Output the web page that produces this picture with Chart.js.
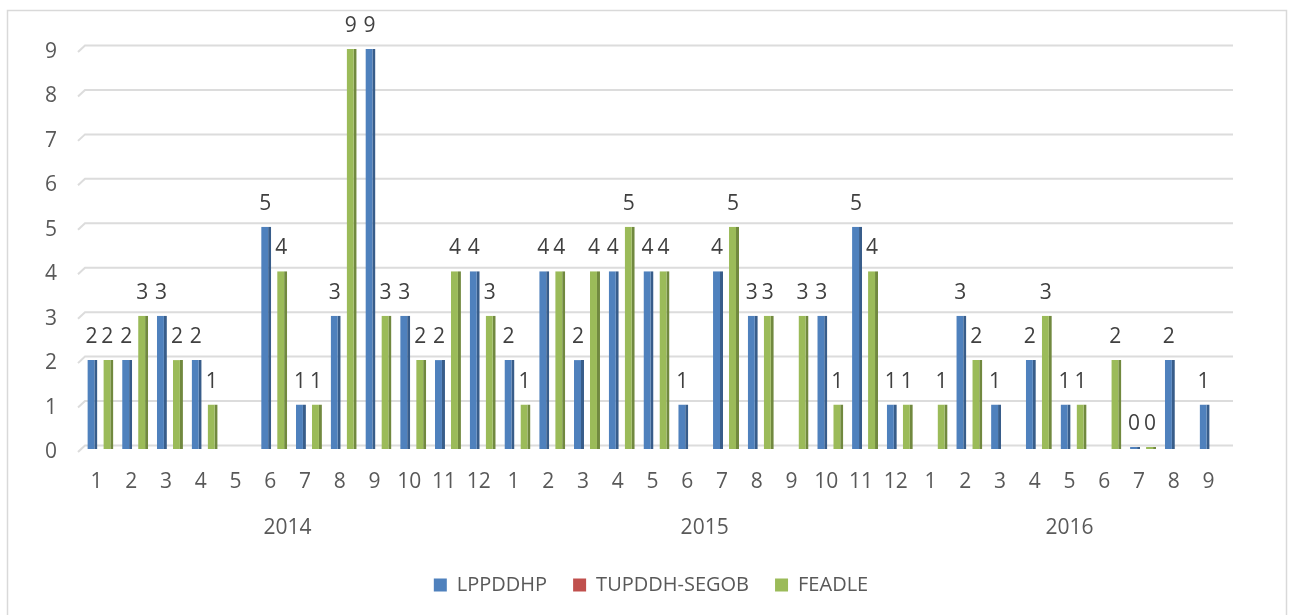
<!DOCTYPE html>
<html>
<head>
<meta charset="utf-8">
<script src="https://cdn.jsdelivr.net/npm/chart.js@4"></script>
<style>
  html, body { margin: 0; padding: 0; background: #ffffff; }
  #wrap { width: 1290px; height: 615px; }
</style>
</head>
<body>
<div id="wrap"><canvas id="c" width="1290" height="615"></canvas></div>
<script>
// ---- data ----
const months = ['1','2','3','4','5','6','7','8','9','10','11','12',
                '1','2','3','4','5','6','7','8','9','10','11','12',
                '1','2','3','4','5','6','7','8','9'];
const years = ['2014', '2015', '2016'];
const yearCounts = [12, 12, 9];
const seriesNames = ['LPPDDHP', 'TUPDDH-SEGOB', 'FEADLE'];
const lppddhp = [2,2,3,2,null,5,1,3,9,3,2,4,
                 2,4,2,4,4,1,4,3,null,3,5,1,
                 null,3,1,2,1,null,0,2,1];
const tupddhSegob = [null,null,null,null,null,null,null,null,null,null,null,null,
                     null,null,null,null,null,null,null,null,null,null,null,null,
                     null,null,null,null,null,null,null,null,null];
const feadle = [2,3,2,1,null,4,1,9,3,2,4,3,
                1,4,4,5,4,null,5,3,3,1,4,1,
                1,2,null,3,1,2,0,null,null];
const yTicks = [0,1,2,3,4,5,6,7,8,9];

const FONT = "'Open Sans', 'Noto Sans', sans-serif";
const TXT = '#595959';

const frame = {
  id: 'frame',
  beforeDraw(chart) {
    const ctx = chart.ctx;
    ctx.save();
    ctx.fillStyle = '#ffffff';
    ctx.fillRect(0, 0, chart.width, chart.height);
    ctx.strokeStyle = '#d9d9d9';
    ctx.lineWidth = 1.5;
    ctx.strokeRect(7.5, 10.5, 1279, 700);
    ctx.restore();
  }
};

const grid3d = {
  id: 'grid3d',
  beforeDatasetsDraw(chart) {
    const ctx = chart.ctx, y = chart.scales.y, a = chart.chartArea;
    ctx.save();
    ctx.strokeStyle = '#dcdcdc';
    ctx.lineWidth = 2;
    yTicks.forEach(v => {
      const py = y.getPixelForValue(v);
      ctx.beginPath();
      ctx.moveTo(a.left - 5, py + 3);
      ctx.lineTo(a.left + 2, py - 3.5);
      ctx.lineTo(a.right + 3, py - 3.5);
      ctx.stroke();
    });
    ctx.restore();
  }
};

const valueLabels = {
  id: 'valueLabels',
  afterDatasetsDraw(chart) {
    const ctx = chart.ctx;
    ctx.save();
    ctx.font = '21px ' + FONT;
    ctx.fillStyle = '#404040';
    ctx.textAlign = 'center';
    ctx.textBaseline = 'middle';
    chart.data.datasets.forEach((ds, di) => {
      const meta = chart.getDatasetMeta(di);
      meta.data.forEach((el, i) => {
        const v = ds.data[i];
        if (v === null || v === undefined) return;
        ctx.fillText(String(v), el.x - 1, el.y - 23);
      });
    });
    ctx.restore();
  }
};

const yearLabels = {
  id: 'yearLabels',
  afterDraw(chart) {
    const ctx = chart.ctx, x = chart.scales.x;
    ctx.save();
    ctx.font = '21px ' + FONT;
    ctx.fillStyle = TXT;
    ctx.textAlign = 'center';
    ctx.textBaseline = 'middle';
    let start = 0;
    years.forEach((yr, k) => {
      const end = start + yearCounts[k] - 1;
      const cx = (x.getPixelForValue(start) + x.getPixelForValue(end)) / 2 - 4;
      ctx.fillText(yr, cx, 528);
      start = end + 1;
    });
    ctx.restore();
  }
};

new Chart(document.getElementById('c'), {
  type: 'bar',
  data: {
    labels: months,
    datasets: [
      { label: seriesNames[0], data: lppddhp, backgroundColor: '#4F81BD', borderColor: '#385D8A',
        borderWidth: {top: 0, left: 0, bottom: 0, right: 3} },
      { label: seriesNames[1], data: tupddhSegob, backgroundColor: '#C0504D', borderColor: '#8C3836',
        borderWidth: {top: 0, left: 0, bottom: 0, right: 3} },
      { label: seriesNames[2], data: feadle, backgroundColor: '#9BBB59', borderColor: '#71893F',
        borderWidth: {top: 0, left: 0, bottom: 0, right: 3} }
    ]
  },
  options: {
    responsive: false,
    animation: false,
    devicePixelRatio: 1,
    categoryPercentage: 0.69,
    barPercentage: 1.25,
    minBarLength: 2,
    layout: { padding: { top: 49, left: 12, right: 0, bottom: 10 } },
    scales: {
      x: {
        grid: { display: false, drawTicks: false },
        border: { display: false },
        ticks: { autoSkip: false, maxRotation: 0, padding: 20, labelOffset: -4,
                 color: TXT, font: { family: FONT, size: 21 } },
        afterFit(s) { s.height = 100; }
      },
      y: {
        min: 0, max: 9,
        grid: { display: false, drawTicks: false },
        border: { display: false },
        ticks: { stepSize: 1, padding: 26, labelOffset: 3, color: TXT,
                 font: { family: FONT, size: 21 } },
        afterFit(s) { s.width = 71; }
      },
      y2: {
        position: 'right',
        display: true,
        grid: { display: false, drawTicks: false },
        border: { display: false },
        ticks: { display: false },
        afterFit(s) { s.width = 60; }
      }
    },
    plugins: {
      legend: {
        position: 'bottom',
        labels: {
          boxWidth: 13, boxHeight: 13, padding: 26, color: TXT,
          font: { family: FONT, size: 20 },
          generateLabels(chart) {
            return Chart.defaults.plugins.legend.labels.generateLabels(chart)
              .map(l => Object.assign(l, { lineWidth: 0, strokeStyle: l.fillStyle }));
          }
        }
      },
      tooltip: { enabled: false }
    }
  },
  plugins: [frame, grid3d, valueLabels, yearLabels]
});
</script>
</body>
</html>
